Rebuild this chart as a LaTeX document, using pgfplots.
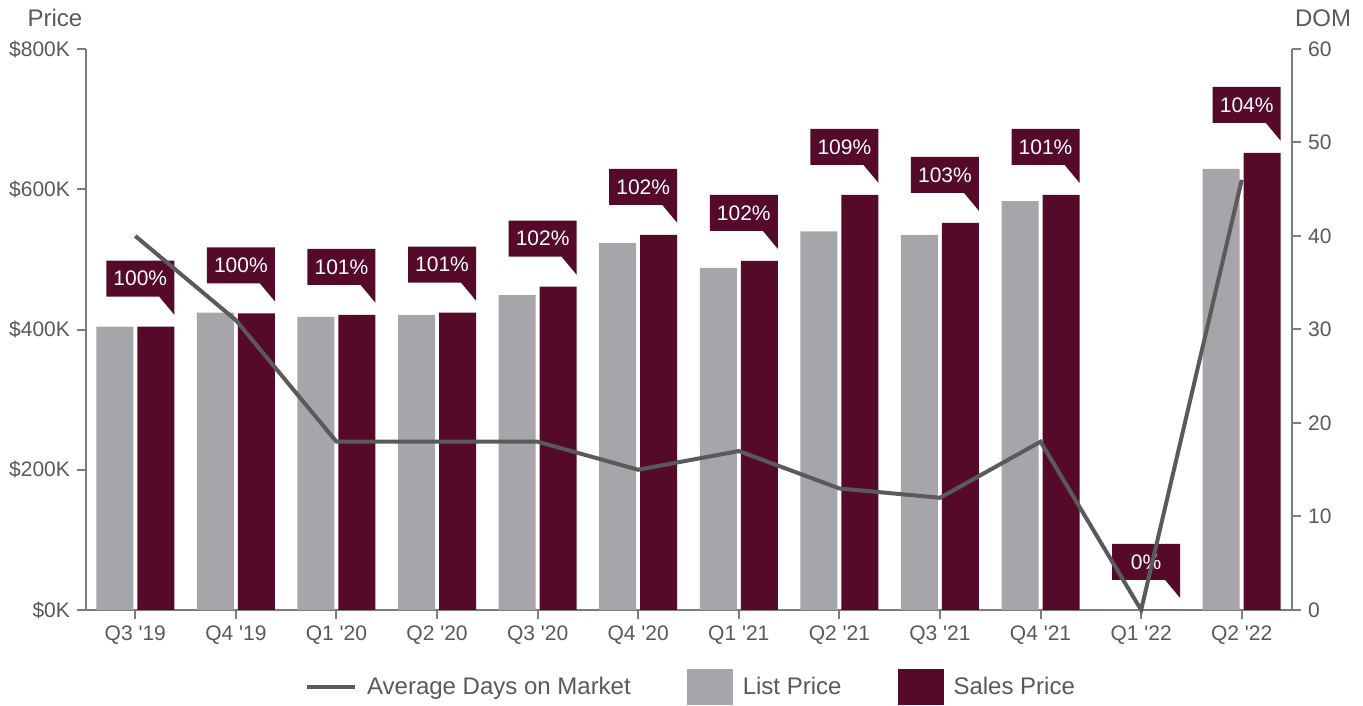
\documentclass[border=0pt]{standalone}
\usepackage{fontspec}
\setmainfont{Liberation Sans}
\usepackage{pgfplots}
\pgfplotsset{compat=1.18}

\definecolor{listgray}{RGB}{166,166,170}
\definecolor{salesred}{RGB}{85,10,42}
\definecolor{domline}{RGB}{90,90,90}
\definecolor{axisgray}{RGB}{125,125,125}
\definecolor{txtgray}{RGB}{89,89,89}

% callout box with a tail pointing at the top right corner of the sales bar
% (marks sit at the category centre, so the bar shift is built in here)
\pgfdeclareplotmark{callout}{%
  \pgfpathmoveto{\pgfpoint{-14.5pt}{15pt}}%
  \pgfpathlineto{\pgfpoint{12pt}{15pt}}%
  \pgfpathlineto{\pgfpoint{19.5pt}{6pt}}%
  \pgfpathlineto{\pgfpoint{19.5pt}{33pt}}%
  \pgfpathlineto{\pgfpoint{-14.5pt}{33pt}}%
  \pgfpathclose
  \pgfusepath{fill}}

\pgfplotsset{
  base/.style={
    scale only axis, width=603pt, height=280.5pt,
    xmin=-0.49, xmax=11.5,
    axis line style={axisgray, line width=1pt, -},
    tick style={axisgray, line width=1pt},
    tick align=outside, major tick length=4.5pt,
    tick label style={font=\fontsize{10.5}{12}\selectfont, text=txtgray},
    /pgf/number format/assume math mode=true,
  },
  linelegend/.style={legend image code/.code={\draw[##1] (0pt,0pt) -- (24pt,0pt);}},
  boxlegend/.style={legend image code/.code={\fill[##1] (0pt,-9pt) rectangle (23pt,9pt);}},
}

\begin{document}
\begin{tikzpicture}
\begin{axis}[base,
  ybar, ymin=0, ymax=800,
  axis x line*=bottom, axis y line*=left,
  xtick={0,...,11},
  xticklabels={Q3 \textquotesingle19, Q4 \textquotesingle19, Q1 \textquotesingle20, Q2 \textquotesingle20,
    Q3 \textquotesingle20, Q4 \textquotesingle20, Q1 \textquotesingle21, Q2 \textquotesingle21,
    Q3 \textquotesingle21, Q4 \textquotesingle21, Q1 \textquotesingle22, Q2 \textquotesingle22},
  ytick={0,200,400,600,800},
  yticklabels={\$0K,\$200K,\$400K,\$600K,\$800K},
  ylabel={Price},
  ylabel style={rotate=-90, at={(axis description cs:0,1)}, anchor=center,
    xshift=-15.5pt, yshift=15.5pt, font=\fontsize{12}{14}\selectfont, text=txtgray},
  bar width=18.5pt,
]
% list price ($K)
\addplot[fill=listgray, draw=none, bar shift=-10.25pt] coordinates {
  (0,404) (1,424) (2,418) (3,421) (4,449) (5,523)
  (6,488) (7,540) (8,535) (9,583) (10,0) (11,629)
};
% sales price ($K), label = sale-to-list ratio
\addplot[fill=salesred, draw=none, bar shift=10.25pt,
  mark=callout, mark options={fill=salesred, draw=none},
  point meta=explicit symbolic, nodes near coords,
  every node near coord/.append style={
    text=white, font=\fontsize{10.5}{12}\selectfont,
    anchor=center, xshift=-7.75pt, yshift=24pt, inner sep=0pt}
  ] coordinates {
  (0,404) [100\%]
  (1,423) [100\%]
  (2,421) [101\%]
  (3,424) [101\%]
  (4,461) [102\%]
  (5,535) [102\%]
  (6,498) [102\%]
  (7,592) [109\%]
  (8,552) [103\%]
  (9,592) [101\%]
  (10,0) [0\%]
  (11,652) [104\%]
};
\end{axis}

\begin{axis}[base,
  ymin=0, ymax=60, clip=false,
  axis x line=none, axis y line*=right,
  ytick={0,10,...,60},
  ylabel={DOM},
  ylabel style={rotate=-90, at={(axis description cs:1,1)}, anchor=center,
    xshift=15.5pt, yshift=15.5pt, font=\fontsize{12}{14}\selectfont, text=txtgray},
  legend columns=3,
  legend style={at={(axis description cs:0.5,0)}, anchor=north, xshift=0.5pt, yshift=-29.5pt,
    draw=none, fill=none, inner sep=0pt, font=\fontsize{12}{14}\selectfont, text=txtgray,
    nodes={inner sep=0pt},
    /tikz/every odd column/.append style={column sep=5pt},
    /tikz/every even column/.append style={column sep=28pt}},
]
\addplot[domline, line width=2pt, linelegend] coordinates {
  (0,40) (1,31) (2,18) (3,18) (4,18) (5,15)
  (6,17) (7,13) (8,12) (9,18) (10,0) (11,46)
};
\addlegendentry{Average Days on Market}
\addlegendimage{fill=listgray, draw=none, boxlegend}
\addlegendentry{List Price}
\addlegendimage{fill=salesred, draw=none, boxlegend}
\addlegendentry{Sales Price}
\end{axis}
\useasboundingbox ([shift={(-43pt,-47.5pt)}]current axis.south west)
  rectangle ([shift={(35.5pt,24.5pt)}]current axis.north east);
\end{tikzpicture}
\end{document}
